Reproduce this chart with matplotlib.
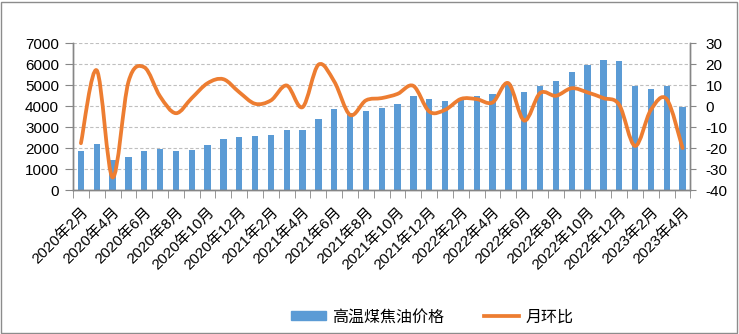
import numpy as np
import matplotlib
matplotlib.use('Agg')
import matplotlib.pyplot as plt
import matplotlib.transforms as mtransforms
from matplotlib.path import Path
from matplotlib.patches import PathPatch, Rectangle
from matplotlib.lines import Line2D

plt.rcParams['font.family'] = ['Liberation Sans', 'Noto Sans CJK SC', 'DejaVu Sans']
plt.rcParams['axes.unicode_minus'] = False

#**************************************************#
# data

months = ['2020年2月', '2020年3月', '2020年4月', '2020年5月', '2020年6月', '2020年7月',
          '2020年8月', '2020年9月', '2020年10月', '2020年11月', '2020年12月',
          '2021年1月', '2021年2月', '2021年3月', '2021年4月', '2021年5月', '2021年6月',
          '2021年7月', '2021年8月', '2021年9月', '2021年10月', '2021年11月', '2021年12月',
          '2022年1月', '2022年2月', '2022年3月', '2022年4月', '2022年5月', '2022年6月',
          '2022年7月', '2022年8月', '2022年9月', '2022年10月', '2022年11月', '2022年12月',
          '2023年1月', '2023年2月', '2023年3月', '2023年4月']

price = [1860, 2190, 1430, 1570, 1860, 1970, 1860, 1910, 2150, 2430, 2530,
         2580, 2620, 2860, 2860, 3390, 3860, 3650, 3770, 3930, 4100, 4480, 4340,
         4240, 4350, 4480, 4580, 5050, 4670, 4960, 5200, 5630, 5980, 6200, 6150,
         4960, 4820, 4960, 3960]

mom = [-17.7, 17.0, -34.0, 11.5, 18.5, 4.6, -3.4, 3.8, 10.9, 12.8, 6.6,
       1.1, 2.7, 9.8, -0.5, 19.7, 11.7, -4.2, 2.7, 3.8, 5.8, 9.6, -2.6,
       -1.8, 3.4, 3.3, 1.7, 10.9, -6.9, 6.2, 4.9, 8.5, 6.5, 3.8, 0.6,
       -19.0, -1.8, 3.3, -20.0]

blue = '#5B9BD5'
orange = '#ED7D31'
axis_grey = '#868686'

#**************************************************#
# create plot

fig = plt.figure(figsize=(7.39, 3.34), dpi=100)
ax = fig.add_axes([0.0988, 0.431, 0.8355, 0.44])
ax2 = ax.twinx()

x = np.arange(len(months))
ax.bar(x, price, width=0.4, color=blue, zorder=2)

# smoothed line like excel (bezier through points)
pts = np.column_stack([x, mom]).astype(float)
verts = [tuple(pts[0])]
codes = [Path.MOVETO]
n = len(pts)
for i in range(n - 1):
    p0 = pts[i - 1] if i > 0 else pts[i]
    p1 = pts[i]
    p2 = pts[i + 1]
    p3 = pts[i + 2] if i + 2 < n else pts[i + 1]
    c1 = p1 + (p2 - p0) / 6.0
    c2 = p2 - (p3 - p1) / 6.0
    verts += [tuple(c1), tuple(c2), tuple(p2)]
    codes += [Path.CURVE4] * 3
ax2.add_patch(PathPatch(Path(verts, codes), facecolor='none', edgecolor=orange,
                        lw=2.7, capstyle='round', joinstyle='round', zorder=3))

# axes
ax.set_xlim(-0.5, len(months) - 0.5)
ax.set_ylim(0, 7000)
ax.set_yticks(range(0, 7001, 1000))
ax2.set_ylim(-40, 30)
ax2.set_yticks(range(-40, 31, 10))

ax.grid(axis='y', color='#BFBFBF', linestyle=(0, (3, 2)), linewidth=0.8, zorder=0)
ax.set_axisbelow(True)

ax.set_xticks(x[::2])
ax.set_xticklabels(months[::2], rotation=45, ha='right', va='top',
                   rotation_mode='anchor', fontsize=11)
shift = mtransforms.ScaledTranslation(4 / 100, 0, fig.dpi_scale_trans)
for lbl in ax.get_xticklabels():
    lbl.set_transform(lbl.get_transform() + shift)
ax.set_xticks(np.arange(-0.5, len(months), 1), minor=True)
ax.tick_params(axis='x', which='major', length=0, pad=11)
ax.tick_params(axis='x', which='minor', length=6, color=axis_grey, direction='out')
ax.tick_params(axis='y', length=6, color=axis_grey, labelsize=11, pad=4)
ax2.tick_params(axis='y', length=4, color=axis_grey, labelsize=11, pad=7)

for a in (ax, ax2):
    a.spines['top'].set_visible(False)
    for s in ('left', 'right', 'bottom'):
        a.spines[s].set_color(axis_grey)
        a.spines[s].set_linewidth(1.0)

#**************************************************#
# legend

handles = [Rectangle((0, 0), 1, 1, color=blue),
           Line2D([], [], color=orange, lw=2.7)]
fig.legend(handles, ['高温煤焦油价格', '月环比'], loc='center',
           bbox_to_anchor=(0.585, 0.051), ncol=2, frameon=False, fontsize=11.5,
           handlelength=2.2, handleheight=0.5, handletextpad=0.4,
           columnspacing=2.5)

# outer border
fig.patches.append(Rectangle((0.002, 0.003), 0.995, 0.992, transform=fig.transFigure,
                             fill=False, edgecolor='#8C8C8C', lw=1.0))

fig.savefig('out.png', dpi=100)
